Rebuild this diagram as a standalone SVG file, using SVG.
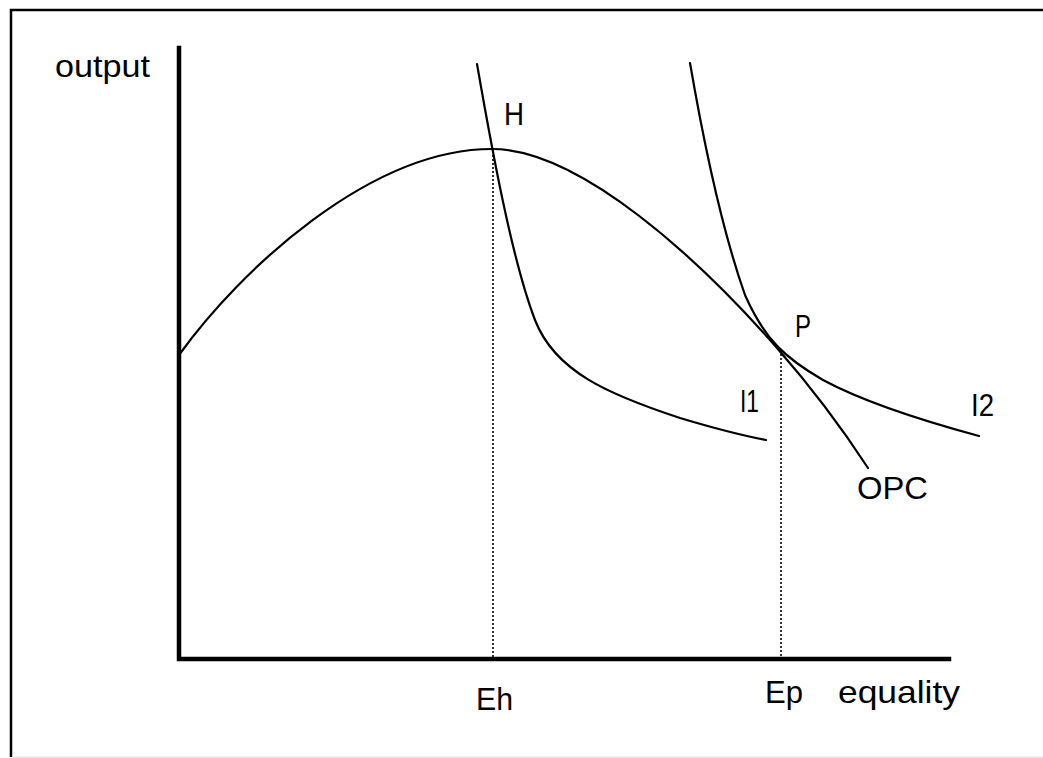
<svg xmlns="http://www.w3.org/2000/svg" width="1043" height="758" viewBox="0 0 1043 758">
<style>
.frame{fill:none;stroke:#000;stroke-width:2.5}
.axis{fill:none;stroke:#000;stroke-width:4.5;stroke-linecap:square}
.curve{fill:none;stroke:#000;stroke-width:2.2;stroke-linecap:round;stroke-linejoin:round}
.dot{fill:none;stroke:#000;stroke-width:1.6;stroke-dasharray:2 2}
.lbl{font-family:"Liberation Sans",Arial,sans-serif;font-size:32px;fill:#000}
</style>
<rect width="1043" height="758" fill="#fff"/>
<g id="frame">
<path class="frame" d="M11,757 L11,10 L1043,10"/>
<line x1="12" y1="757" x2="1043" y2="757" stroke="#e6e6e6" stroke-width="1.5"/>
</g>
<g id="axes">
<path class="axis" d="M179,48 L179,659 L949,659"/>
<text class="lbl" x="55" y="77" textLength="95" lengthAdjust="spacingAndGlyphs">output</text>
<text class="lbl" x="838" y="703" textLength="122" lengthAdjust="spacingAndGlyphs">equality</text>
</g>
<g id="connectors">
<path id="opc-curve" class="curve" d="M179,355 C240,270 370,149 492,149 C580,149 700,260 777,348 C805,380 840,425 868,468"/>
<path id="i1-curve" class="curve" d="M477,64 C492,150 512,260 535,320 C555,372 610,395 680,418 C720,430 745,436 766,440"/>
<path id="i2-curve" class="curve" d="M690,63 C705,150 722,230 745,295 C765,340 785,358 823,380 C860,400 920,420 979,436"/>
<line class="dot" x1="493" y1="151" x2="493" y2="657"/>
<line class="dot" x1="781" y1="350" x2="781" y2="657"/>
</g>
<g id="node-H"><text class="lbl" x="504" y="125" textLength="20" lengthAdjust="spacingAndGlyphs">H</text></g>
<g id="node-P"><text class="lbl" x="795" y="337" textLength="16" lengthAdjust="spacingAndGlyphs">P</text></g>
<g id="node-I1"><text class="lbl" x="740" y="412" textLength="19" lengthAdjust="spacingAndGlyphs">I1</text></g>
<g id="node-I2"><text class="lbl" x="971" y="416" textLength="23" lengthAdjust="spacingAndGlyphs">I2</text></g>
<g id="node-OPC"><text class="lbl" x="857" y="499" textLength="71" lengthAdjust="spacingAndGlyphs">OPC</text></g>
<g id="node-Eh"><text class="lbl" x="476" y="710" textLength="37" lengthAdjust="spacingAndGlyphs">Eh</text></g>
<g id="node-Ep"><text class="lbl" x="765" y="703" textLength="38" lengthAdjust="spacingAndGlyphs">Ep</text></g>
</svg>
